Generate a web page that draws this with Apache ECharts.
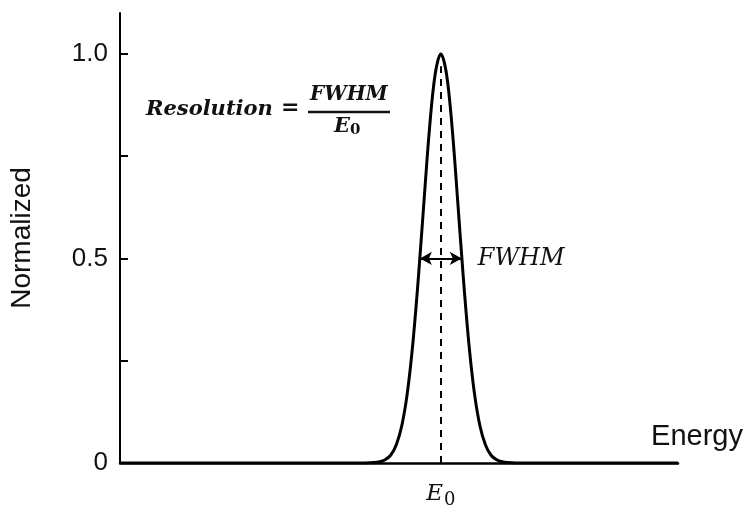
<!DOCTYPE html>
<html>
<head>
<meta charset="utf-8">
<script src="https://cdn.jsdelivr.net/npm/echarts@6/dist/echarts.min.js"></script>
<style>html,body{margin:0;padding:0;background:#fff;}#c{width:745px;height:505px;}</style>
</head>
<body>
<div id="c"></div>
<script>
// Energy positions (arbitrary units) and normalized intensity
const energy = [0, 3.0, 4.4, 4.55, 4.65, 4.75, 4.85, 4.95, 5.05, 5.15, 5.25, 5.35, 5.45, 5.55, 5.65, 5.75,
                5.85, 5.95, 6.05, 6.15, 6.25, 6.35, 6.45, 6.55, 6.65, 6.75, 6.85, 6.95, 7.1, 8.5, 10];
const intensity = [0, 0, 0, 0.001, 0.003, 0.008, 0.019, 0.044, 0.091, 0.172, 0.295, 0.458, 0.644, 0.823, 0.952, 1.0,
                   0.952, 0.823, 0.644, 0.458, 0.295, 0.172, 0.091, 0.044, 0.019, 0.008, 0.003, 0.001, 0, 0, 0];
const peakE = 5.75;
const fwhmLeft = 5.375, fwhmRight = 6.125, halfMax = 0.5;
const yTicks = [0, 0.25, 0.5, 0.75, 1.0];
const yLabels = [0, 0.5, 1.0];

const chart = echarts.init(document.getElementById('c'), null, {renderer: 'canvas'});
const serif = '"DejaVu Serif", "Liberation Serif", serif';
const sans = '"Liberation Sans", Arial, sans-serif';

chart.setOption({
  animation: false,
  backgroundColor: '#fff',
  grid: {left: 120, right: 67, top: 13, bottom: 42, containLabel: false, outerBoundsMode: 'none'},
  xAxis: {
    type: 'value', min: 0, max: 10,
    name: 'Energy', nameLocation: 'end', nameGap: 19,
    nameTextStyle: {fontFamily: sans, fontSize: 29, color: '#111', align: 'center', verticalAlign: 'bottom', padding: [0, 0, 12, 0]},
    axisLine: {show: true, lineStyle: {color: '#000', width: 2.5}},
    axisTick: {show: false},
    splitLine: {show: false},
    axisLabel: {
      customValues: [peakE], margin: 16,
      formatter: () => '{e|E}{s|0}',
      rich: {
        e: {fontFamily: serif, fontStyle: 'italic', fontSize: 23, color: '#111'},
        s: {fontFamily: serif, fontSize: 18, color: '#111', padding: [12, 0, 0, 1]}
      }
    }
  },
  yAxis: {
    type: 'value', min: 0, max: 1.1,
    name: 'Normalized', nameLocation: 'middle', nameGap: 84,
    nameTextStyle: {fontFamily: sans, fontSize: 28, color: '#111'},
    axisLine: {show: true, lineStyle: {color: '#000', width: 2}},
    axisTick: {show: true, inside: true, length: 8, customValues: yTicks, lineStyle: {color: '#000', width: 2}},
    splitLine: {show: false},
    axisLabel: {
      customValues: yLabels, margin: 12,
      fontFamily: sans, fontSize: 26, color: '#111',
      formatter: v => v === 0 ? '0' : v.toFixed(1)
    }
  },
  series: [{
    type: 'line',
    data: energy.map((e, i) => [e, intensity[i]]),
    smooth: 0.35,
    showSymbol: false,
    lineStyle: {color: '#000', width: 3},
    z: 3,
    markLine: {
      silent: true,
      animation: false,
      data: [
        [{coord: [peakE, 0], symbol: 'none', lineStyle: {type: [7, 6], width: 2, color: '#000'}, label: {show: false}},
         {coord: [peakE, 0.97], symbol: 'none'}],
        [{coord: [fwhmLeft, halfMax], symbol: 'arrow', symbolSize: [10, 12], lineStyle: {type: 'solid', width: 2, color: '#000'},
          label: {show: true, position: 'end', distance: 16, formatter: 'FWHM', fontFamily: serif, fontStyle: 'italic', fontSize: 24, color: '#111'}},
         {coord: [fwhmRight, halfMax], symbol: 'arrow', symbolSize: [10, 12]}]
      ]
    }
  }],
  graphic: [
    {type: 'text', left: 146, top: 99, style: {text: 'Resolution', font: 'bold italic 21px ' + serif, fill: '#111'}},
    {type: 'text', left: 281, top: 97, style: {text: '=', font: 'bold 22px ' + serif, fill: '#111'}},
    {type: 'text', left: 310, top: 85, style: {text: 'FWHM', font: 'bold italic 20px ' + serif, fill: '#111'}},
    {type: 'line', shape: {x1: 308, y1: 112, x2: 390, y2: 112}, style: {stroke: '#111', lineWidth: 2.5}},
    {type: 'text', left: 334, top: 116, style: {
      text: '{e|E}{s|0}',
      rich: {
        e: {font: 'bold italic 21px ' + serif, fill: '#111'},
        s: {font: 'bold 15px ' + serif, fill: '#111', padding: [8, 0, 0, 0]}
      }
    }}
  ]
});
</script>
</body>
</html>
